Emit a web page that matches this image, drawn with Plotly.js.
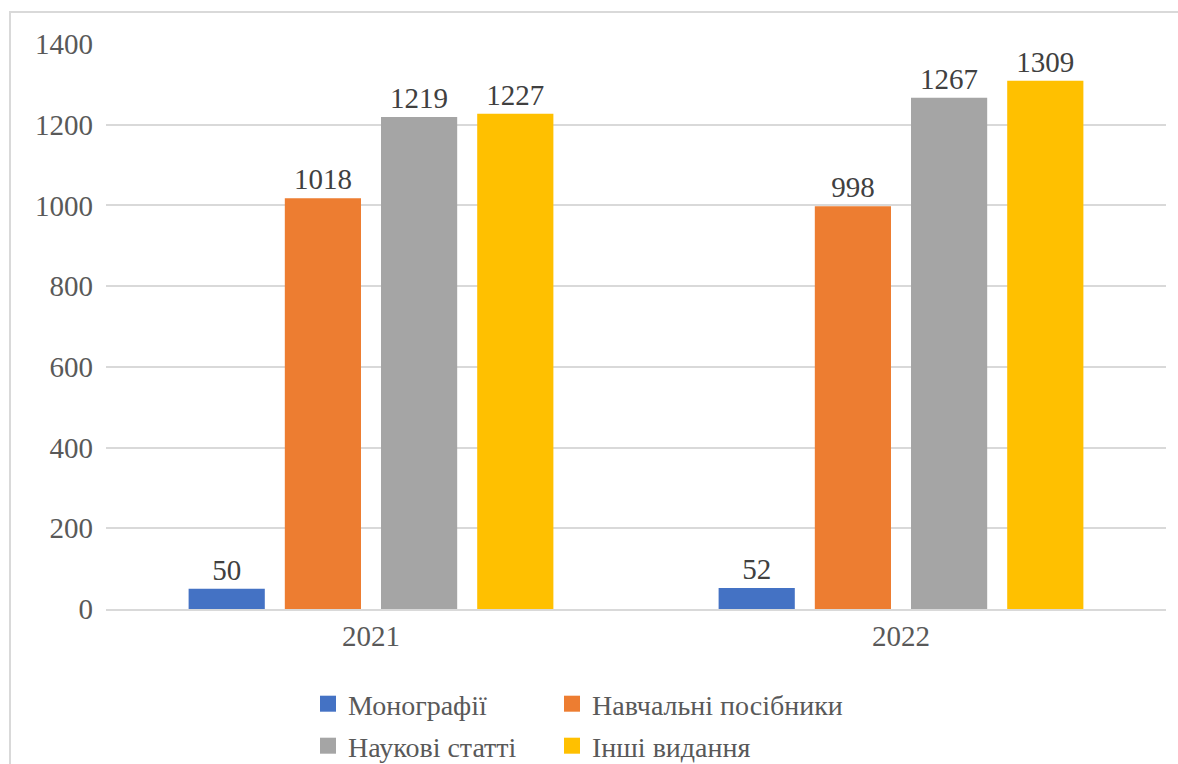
<!DOCTYPE html>
<html>
<head>
<meta charset="utf-8">
<script src="https://cdn.plot.ly/plotly-3.0.1.min.js"></script>
<style>
  html, body { margin: 0; padding: 0; background: #fff; overflow: hidden; }
  #wrap { position: relative; width: 1178px; height: 764px; }
  #chart { width: 1178px; height: 764px; }
  #frame { position: absolute; left: 9px; top: 11px; width: 1200px; height: 800px;
           border: 2px solid #d9d9d9; pointer-events: none; box-sizing: border-box; }
</style>
</head>
<body>
<div id="wrap">
  <div id="chart"></div>
  <div id="frame"></div>
</div>
<script>
const years = ['2021', '2022'];
const seriesNames = ['Монографії', 'Навчальні посібники', 'Наукові статті', 'Інші видання'];
const monographs = [50, 52];
const textbooks = [1018, 998];
const articles = [1219, 1267];
const otherPubs = [1227, 1309];
const yTicks = [0, 200, 400, 600, 800, 1000, 1200, 1400];

const colors = ['#4472C4', '#ED7D31', '#A5A5A5', '#FFC000'];
const values = [monographs, textbooks, articles, otherPubs];
const legendIds = ['legend', 'legend2', 'legend3', 'legend4'];
const serifFamily = 'Liberation Serif, serif';

const traces = [];
values.forEach((v, i) => {
  traces.push({
    type: 'bar',
    x: years,
    y: v,
    name: seriesNames[i],
    marker: { color: colors[i] },
    text: v.map(String),
    textposition: 'outside',
    cliponaxis: false,
    textfont: { family: serifFamily, size: 29, color: '#404040' },
    showlegend: false,
    hoverinfo: 'x+y+name'
  });
});
// legend swatches
values.forEach((v, i) => {
  traces.push({
    type: 'scatter',
    mode: 'markers',
    x: [null],
    y: [null],
    name: seriesNames[i],
    marker: { color: colors[i], symbol: 'square', size: 16 },
    legend: legendIds[i],
    showlegend: true,
    hoverinfo: 'skip'
  });
});

function leg(x, y) {
  return {
    orientation: 'h',
    xref: 'container',
    yref: 'container',
    x: x,
    y: y,
    xanchor: 'left',
    yanchor: 'middle',
    font: { family: serifFamily, size: 28, color: '#595959' },
    bgcolor: 'rgba(0,0,0,0)',
    borderwidth: 0,
    itemclick: false,
    itemdoubleclick: false
  };
}

const col1 = 308 / 1178, col2 = 552 / 1178;
const row1 = 1 - 704 / 764, row2 = 1 - 746 / 764;

const layout = {
  width: 1178,
  height: 764,
  margin: { l: 106, r: 12, t: 44, b: 155 },
  paper_bgcolor: '#ffffff',
  plot_bgcolor: '#ffffff',
  barmode: 'group',
  bargap: 0.274,
  bargroupgap: 0.208,
  font: { family: serifFamily, size: 29, color: '#595959' },
  xaxis: {
    type: 'category',
    showgrid: false,
    showline: true,
    linecolor: '#d9d9d9',
    linewidth: 1.5,
    ticks: '',
    tickfont: { family: serifFamily, size: 29, color: '#595959' }
  },
  yaxis: {
    range: [0, 1400],
    tickvals: yTicks,
    ticktext: yTicks.map(String),
    showgrid: true,
    gridcolor: '#d9d9d9',
    gridwidth: 1.5,
    zeroline: false,
    showline: false,
    ticks: '',
    ticklabelstandoff: 12,
    tickfont: { family: serifFamily, size: 29, color: '#595959' }
  },
  showlegend: true,
  legend: leg(col1, row1),
  legend2: leg(col2, row1),
  legend3: leg(col1, row2),
  legend4: leg(col2, row2)
};

// warm up the serif font before drawing
(function warm() {
  try {
    const ctx = document.createElement('canvas').getContext('2d');
    ctx.font = '29px "Liberation Serif"';
    ctx.measureText('0123456789 ' + seriesNames.join(' '));
  } catch (e) {}
})();

const fontReady = (document.fonts && document.fonts.load)
  ? document.fonts.load('29px "Liberation Serif"', '0123456789' + seriesNames.join('')).catch(() => null)
  : Promise.resolve();

fontReady.then(() => Plotly.newPlot('chart', traces, layout, { displayModeBar: false }))
  .then(() => new Promise(r => requestAnimationFrame(() => setTimeout(r, 30))))
  .then(() => Plotly.redraw('chart'));
</script>
</body>
</html>
